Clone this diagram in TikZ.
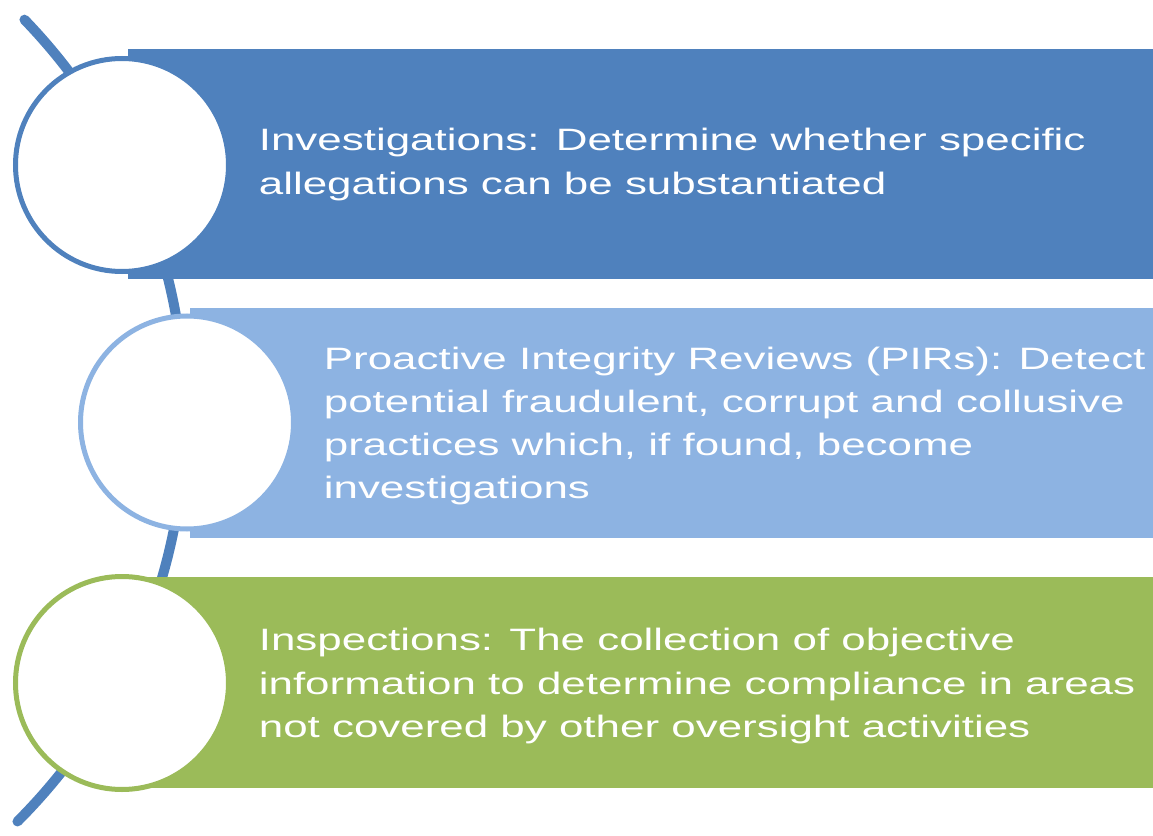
\documentclass[tikz,border=0pt]{standalone}
\usepackage{fontspec}
\newfontfamily\barfont[FakeStretch=1.42]{Liberation Sans}
\usetikzlibrary{positioning}
\definecolor{darkblue}{HTML}{4F81BD}
\definecolor{lightblue}{HTML}{8DB3E2}
\definecolor{leafgreen}{HTML}{9BBB59}

\begin{document}
\begin{tikzpicture}[
    bar/.style={rectangle, inner sep=0, anchor=west},
    ring/.style={circle, draw=#1, fill=white, line width=0.1cm, minimum size=4.26cm, inner sep=0},
    bartext/.style={anchor=west, inner sep=0, text=white, align=left, font=\barfont\fontsize{17.6}{24.5}\selectfont}
]
\useasboundingbox (0,0) rectangle (23.06,16.7);

% spine behind everything
\coordinate (hub) at (-7.74,8.36);
\draw[darkblue, line width=0.2cm, line cap=round] ([shift={(44:11.44)}]hub) arc[start angle=44, end angle=-45, radius=11.44];

% colour bars
\foreach \n/\x/\y/\w/\h/\c in {1/2.56/13.42/20.5/4.6/darkblue, 2/3.8/8.24/19.26/4.6/lightblue, 3/2.5/3.05/20.56/4.22/leafgreen}
{
    \node[bar, fill=\c, minimum width=\w*1cm, minimum height=\h*1cm] (bar\n) at (\x,\y) {};
}

% rings on top
\foreach \n/\x/\y/\c in {1/2.44/13.4/darkblue, 2/3.74/8.25/lightblue, 3/2.44/3.04/leafgreen}
{
    \node[ring=\c] (ring\n) at (\x,\y) {};
}

\node[bartext, right=2.73cm of ring1.center, yshift=0.01cm] (text1)
    {Investigations: Determine whether specific\\allegations can be substantiated};
\node[bartext, right=2.73cm of ring2.center, yshift=-0.07cm] (text2)
    {Proactive Integrity Reviews (PIRs): Detect\\potential fraudulent, corrupt and collusive\\practices which, if found, become\\investigations};
\node[bartext, right=2.73cm of ring3.center, yshift=-0.06cm] (text3)
    {Inspections: The collection of objective\\information to determine compliance in areas\\not covered by other oversight activities};
\end{tikzpicture}
\end{document}
